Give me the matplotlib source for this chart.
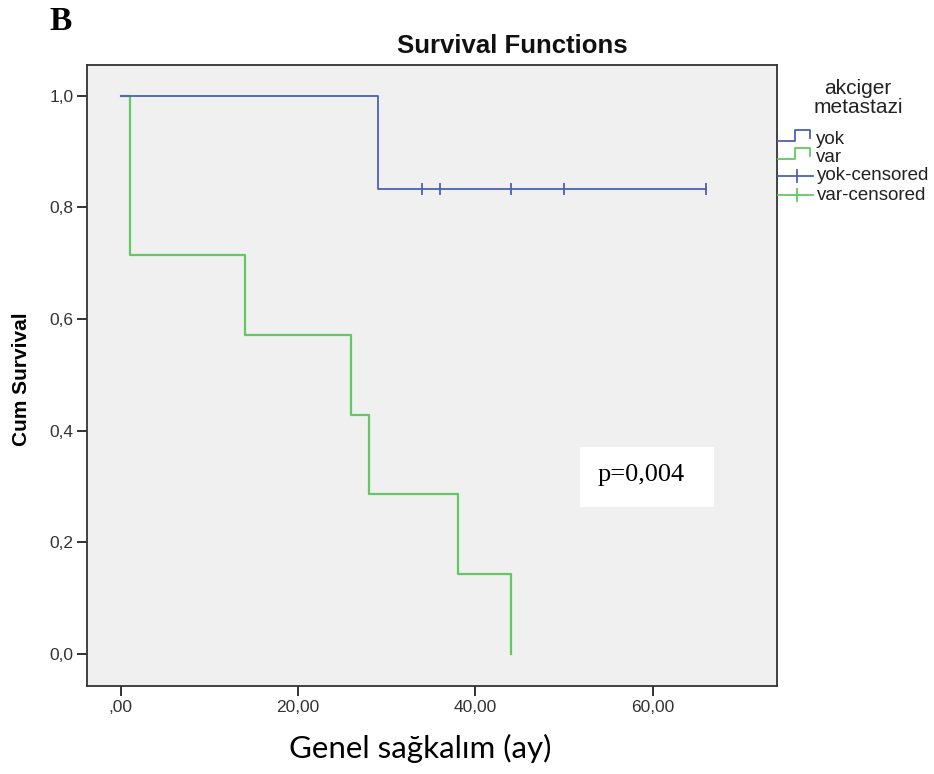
import numpy as np
import matplotlib.pyplot as plt
from matplotlib.lines import Line2D
from matplotlib.patches import Rectangle

# Kaplan-Meier steps
yok_t = [0, 29, 66]
yok_s = [1.0, 0.833, 0.833]
yok_cens_t = [34, 36, 44, 50, 66]
yok_cens_s = [0.833, 0.833, 0.833, 0.833, 0.833]

var_t = [0, 1, 14, 26, 28, 38, 44]
var_s = [1.0, 0.714, 0.571, 0.429, 0.286, 0.143, 0.0]

xticks = [0, 20, 40, 60]
xticklabels = [",00", "20,00", "40,00", "60,00"]
yticks = [0.0, 0.2, 0.4, 0.6, 0.8, 1.0]
yticklabels = ["0,0", "0,2", "0,4", "0,6", "0,8", "1,0"]

blue = "#4a62b4"
green = "#62c862"

W, H = 934, 774
fig = plt.figure(figsize=(W / 100, H / 100), dpi=100)
ax = fig.add_axes([87 / W, 1 - 686 / H, (777 - 87) / W, (686 - 65) / H])
ax.set_facecolor("#f0f0f0")

ax.step(var_t, var_s, where="post", color=green, lw=1.6)
ax.step(yok_t, yok_s, where="post", color=blue, lw=1.3)
ax.plot(yok_cens_t, yok_cens_s, ls="none", marker="|", ms=9, mew=1.3, color=blue)

ax.set_xlim(-3.8, 74)
ax.set_ylim(-0.057, 1.055)
ax.set_xticks(xticks)
ax.set_xticklabels(xticklabels)
ax.set_yticks(yticks)
ax.set_yticklabels(yticklabels)
ax.tick_params(direction="out", length=7, width=1.3, labelsize=12.5, colors="#222222",
               labelcolor="#333333")
ax.tick_params(axis="x", pad=3)
ax.tick_params(axis="y", pad=2.5)
for lab in ax.get_xticklabels() + ax.get_yticklabels():
    lab.set_family("Liberation Sans")
for sp in ax.spines.values():
    sp.set_linewidth(1.3)
    sp.set_color("#333333")

fig.text(22 / W, 1 - 379 / H, "Cum Survival", ha="center", va="center", rotation=90,
         fontsize=15, fontweight="bold", family="Liberation Sans")

# p value box
ax.add_patch(Rectangle((51.8, 0.263), 15.1, 0.108, facecolor="white", edgecolor="none",
                       zorder=3))
ax.text(58.7, 0.321, "p=0,004", ha="center", va="center", fontsize=19,
        family="Liberation Serif", zorder=4)

fig.text(512 / W, 1 - 53 / H, "Survival Functions", ha="center", va="baseline",
         fontsize=18.5, fontweight="bold", family="Liberation Sans", color="#111111")
fig.text(49 / W, 1 - 22 / H, "B", ha="left", va="center", fontsize=24,
         fontweight="bold", family="Liberation Serif")
fig.text(420 / W, 1 - 758 / H, "Genel sağkalım (ay)", ha="center", va="baseline",
         fontsize=22.5, family="Lato")

# legend drawn by hand, SPSS style
fig.text(858 / W, 1 - 98 / H, "akciger\nmetastazi", ha="center", va="center",
         fontsize=15, family="Liberation Sans", color="#222222", linespacing=1.05)

def fy(y):
    return 1 - y / H

def fx(x):
    return x / W

entries = [("yok", blue, "step", 139), ("var", green, "step", 157),
           ("yok-censored", blue, "cens", 176), ("var-censored", green, "cens", 195)]
for name, col, kind, y in entries:
    if kind == "step":
        xs = [778, 795, 795, 810, 810]
        ys = [y + 2, y + 2, y - 9, y - 9, y - 1]
        fig.add_artist(Line2D([fx(v) for v in xs], [fy(v) for v in ys], color=col, lw=1.3))
        tx = 816
    else:
        fig.add_artist(Line2D([fx(778), fx(813)], [fy(y), fy(y)], color=col, lw=1.3))
        fig.add_artist(Line2D([fx(797), fx(797)], [fy(y - 6), fy(y + 6)], color=col, lw=1.3))
        tx = 817
    fig.text(fx(tx), fy(y), name, ha="left", va="center", fontsize=13.5,
             family="Liberation Sans", color="#222222")

fig.savefig("out.png", dpi=100)
